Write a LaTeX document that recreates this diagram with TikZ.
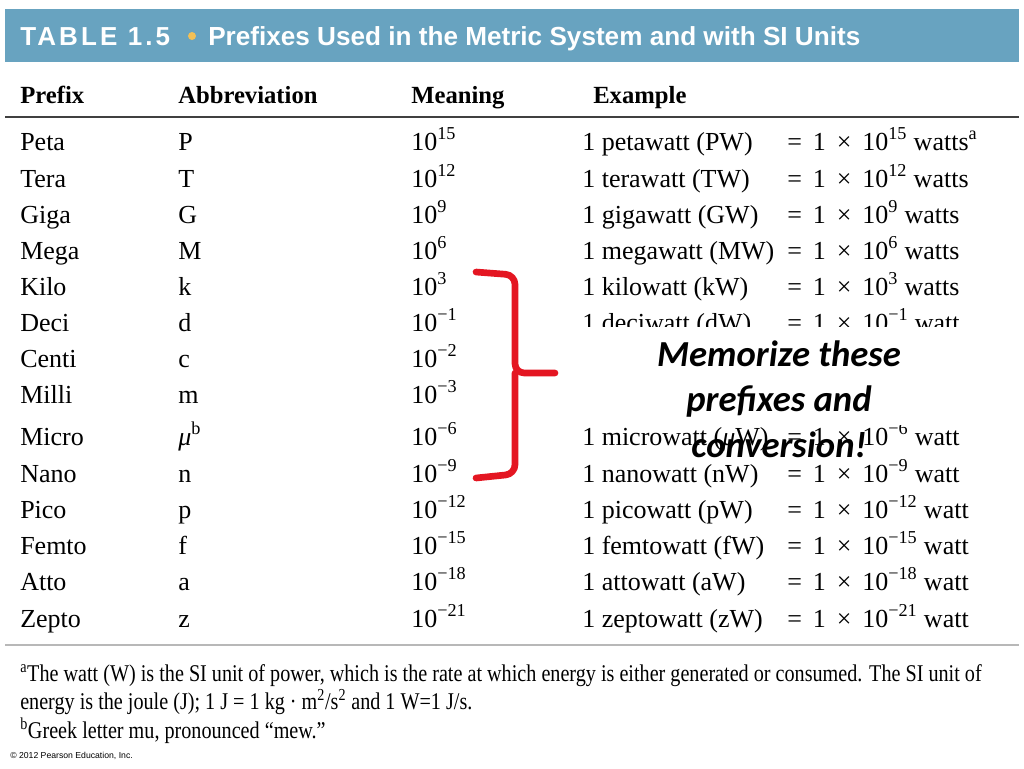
\documentclass[tikz,border=0pt]{standalone}
\usepackage{fontspec}
\setmainfont{Liberation Serif}
\newfontfamily\titlefont{Liberation Sans}
\newfontfamily\memofont{Carlito}
\newfontfamily\notefont[FakeStretch=0.84]{Liberation Serif}
\usetikzlibrary{positioning,calc}
\definecolor{headblue}{RGB}{104,163,192}
\definecolor{dotyellow}{RGB}{242,192,86}
\definecolor{bracered}{RGB}{228,22,34}
\newcommand{\eqgap}{\hspace{0.42em}}

\begin{document}
\begin{tikzpicture}[
		x=0.75pt, y=-0.75pt,
		cell/.style={ % text of a table cell
			anchor=base west, inner sep=0pt,
			font=\fontsize{19.5}{23}\selectfont
		},
		colhead/.style={ % column heading
			anchor=base west, inner sep=0pt,
			font=\fontsize{18.5}{22}\selectfont\bfseries
		},
		note/.style={ % footnote line
			anchor=base west, inner sep=0pt,
			font=\notefont\fontsize{18}{21}\selectfont
		},
		brace/.style={ % red hand-drawn bracket
			bracered, line width=5pt,
			line cap=round, line join=round,
			rounded corners=7pt
		}
	]
	\useasboundingbox (0,0) rectangle (1024,768);
	
	% ================= TITLE BAR =================
	\fill[headblue] (5,9) rectangle (1019,62);
	\node[anchor=base west, inner sep=0pt, text=white,
		font=\titlefont\fontsize{19.5}{23}\selectfont\bfseries\addfontfeature{LetterSpace=12}]
		(tabno) at (20,45) {TABLE 1.5};
	\fill[dotyellow] (192,36) circle (4);
	\node[anchor=base west, inner sep=0pt, text=white,
		font=\titlefont\fontsize{19.6}{23}\selectfont\bfseries]
		(title) at (208,45) {Prefixes Used in the Metric System and with SI Units};
	
	% ================= COLUMN HEADINGS =================
	\node[colhead] (hpre)  at (20,103)  {Prefix};
	\node[colhead] (habb)  at (178,103) {Abbreviation};
	\node[colhead] (hmean) at (411,103) {Meaning};
	\node[colhead] (hex)   at (593,103) {Example};
	\draw[black!75, line width=1.6pt] (5,117) -- (1019,117);
	
	% ================= ROWS =================
	\foreach \pre/\ab/\ex/\nm/\sym/\un/\yb [count=\j] in {
		Peta/P/15/petawatt/PW/{watts\textsuperscript{a}}/150,
		Tera/T/12/terawatt/TW/watts/187,
		Giga/G/9/gigawatt/GW/watts/223,
		Mega/M/6/megawatt/MW/watts/259,
		Kilo/k/3/kilowatt/kW/watts/295,
		Deci/d/−1/deciwatt/dW/watt/331,
		Centi/c/−2/centiwatt/cW/watt/367,
		Milli/m/−3/milliwatt/mW/watt/403,
		Micro/{{\itshape μ}\textsuperscript{b}}/−6/microwatt/{{\itshape μ}W}/watt/445,
		Nano/n/−9/nanowatt/nW/watt/482,
		Pico/p/−12/picowatt/pW/watt/518,
		Femto/f/−15/femtowatt/fW/watt/554,
		Atto/a/−18/attowatt/aW/watt/590,
		Zepto/z/−21/zeptowatt/zW/watt/627} {
		\node[cell] (pre-\j)  at (20,\yb)  {\pre};
		\node[cell] (abb-\j)  at (178,\yb) {\ab};
		\node[cell] (mean-\j) at (411,\yb) {10\textsuperscript{\ex}};
		% rows 7 and 8 lie wholly under the note
		\ifnum\j=7 \else \ifnum\j=8 \else
			\node[cell] (nm-\j) at (582,\yb) {1 \nm{} (\sym)};
			\node[cell] (eq-\j) at (787,\yb)
				{=\eqgap 1\eqgap ×\eqgap 10\textsuperscript{\ex} \un};
		\fi \fi
	}
	\draw[black!28, line width=2pt] (5,645) -- (1019,645);
	
	% ================= NOTE OVER THE TABLE =================
	\fill[white] (572,327) rectangle (1005,425);
	\node[align=center, inner sep=0pt,
		font=\memofont\fontsize{27.5}{34}\selectfont\bfseries\itshape]
		(memo) at (779,399) {Memorize these\\prefixes and\\conversion!};
	
	% Ngoặc đỏ
	\draw[brace] (476,272) -- (515,275) -- (515,373) -- (555,373);
	\draw[brace] (515,373) -- (515,474) -- (476,478);
	
	% ================= FOOTNOTES =================
	\node[note] (note-a) at (20,681) {\textsuperscript{a}The watt (W) is the SI unit of power, which is the rate at which energy is either generated or consumed. The SI unit of};
	\node[note] (note-a2) at (20,709) {energy is the joule (J); 1 J = 1 kg · m\textsuperscript{2}/s\textsuperscript{2} and 1 W=1 J/s.};
	\node[note] (note-b) at (20,738) {\textsuperscript{b}Greek letter mu, pronounced “mew.”};
	\node[anchor=base west, inner sep=0pt,
		font=\titlefont\fontsize{6.5}{8}\selectfont]
		(copy) at (10,758) {© 2012 Pearson Education, Inc.};
\end{tikzpicture}
\end{document}
